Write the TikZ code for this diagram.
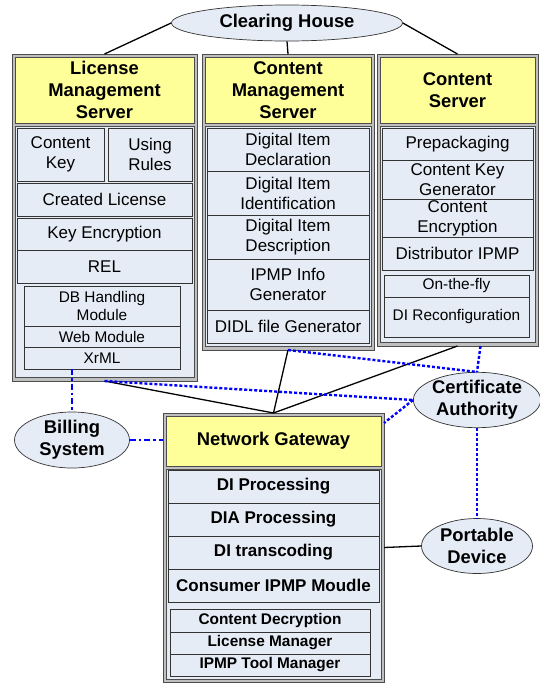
\documentclass[tikz,border=0pt]{standalone}
\usepackage{fontspec}
\setmainfont{Liberation Sans}
\usepackage{tikz}
\usetikzlibrary{shapes.geometric, positioning, calc}
\definecolor{yel}{HTML}{FFFF99}
\definecolor{pane}{HTML}{E6ECF6}

\begin{document}
\begin{tikzpicture}[
  x=1pt, y=-1pt,
  f/.style={rectangle, draw=black!70, fill=black!25, line width=0.6pt,
            inner sep=0pt, outer sep=0pt},
  p/.style={rectangle, draw=black!70, fill=pane, line width=0.6pt,
            inner sep=0pt, outer sep=0pt},
  h/.style={rectangle, draw=black!70, fill=yel, line width=0.6pt,
            inner sep=0pt, outer sep=0pt, align=center,
            font=\bfseries\fontsize{18.4}{22}\selectfont},
  i/.style={rectangle, draw=black!80, fill=pane, line width=0.7pt,
            inner sep=0pt, outer sep=0pt, align=center,
            font=\fontsize{17}{20}\selectfont},
  si/.style={i, font=\fontsize{15.4}{18}\selectfont},
  gi/.style={i, font=\bfseries\fontsize{17}{20}\selectfont},
  gs/.style={i, font=\bfseries\fontsize{15.4}{18}\selectfont},
  e/.style={ellipse, draw=black!80, fill=pane, line width=0.7pt,
            inner sep=0pt, align=center,
            font=\bfseries\fontsize{18.4}{22}\selectfont},
  l/.style={line width=1.3pt},
  cert/.style={blue, line width=2.4pt, dash pattern=on 3pt off 2pt},
  bill/.style={blue, line width=2.4pt, dash pattern=on 6pt off 3pt on 2.5pt off 3pt},
]
  \useasboundingbox (0,0) rectangle (539,683);

  \node[e, minimum width=231pt, minimum height=36pt] (ch) at (287,23) {Clearing House};

  \node[f, minimum width=185pt, minimum height=327pt] (lmsf) at (104.5,217.5) {};
  \node[h, minimum width=179pt, minimum height=66pt] (lms) at (104.5,90)
       {License\\Management\\Server};
  \node[p, minimum width=179pt, minimum height=251pt] (lmsp) at (104.5,251.5) {};
  \node[i, minimum width=87pt, minimum height=53pt] (ck) at (60.5,154.5) {Content\\Key};
  \node[i, minimum width=84pt, minimum height=53pt] (ur) at (150,154.5) {Using\\Rules};
  \node[i, minimum width=175pt, minimum height=33pt] (cl) at (104.5,199.5) {Created License};
  \node[i, minimum width=175pt, minimum height=32pt, below=2pt of cl] (ke) {Key Encryption};
  \node[i, minimum width=175pt, minimum height=33pt, below=0pt of ke] (rel) {REL};
  \node[si, minimum width=156pt, minimum height=40pt] (db) at (102,306) {DB Handling\\Module};
  \node[si, minimum width=156pt, minimum height=21pt, below=0pt of db] (web) {Web Module};
  \node[si, minimum width=156pt, minimum height=22pt, below=0pt of web] (xrml) {XrML};

  \node[f, minimum width=172pt, minimum height=296pt] (cmsf) at (288,202) {};
  \node[h, minimum width=166pt, minimum height=66pt] (cms) at (288,90)
       {Content\\Management\\Server};
  \node[p, minimum width=166pt, minimum height=220pt] (cmsp) at (288,236) {};
  \node[i, minimum width=162pt, minimum height=43pt] (ddecl) at (288,149.5)
       {Digital Item\\Declaration};
  \node[i, minimum width=162pt, minimum height=44pt, below=0pt of ddecl] (dident)
       {Digital Item\\Identification};
  \node[i, minimum width=162pt, minimum height=44pt, below=0pt of dident] (ddesc)
       {Digital Item\\Description};
  \node[i, minimum width=162pt, minimum height=51pt, below=0pt of ddesc] (ipmp)
       {IPMP Info\\Generator};
  \node[i, minimum width=162pt, minimum height=33pt, below=0pt of ipmp] (didl)
       {DIDL file Generator};

  \node[f, minimum width=161pt, minimum height=292pt] (csf) at (457.5,200) {};
  \node[h, minimum width=155pt, minimum height=66pt] (cs) at (457.5,90) {Content\\Server};
  \node[p, minimum width=155pt, minimum height=216pt] (csp) at (457.5,234) {};
  \node[i, minimum width=151pt, minimum height=32pt] (prep) at (457.5,144) {Prepackaging};
  \node[i, minimum width=151pt, minimum height=39pt, below=0pt of prep] (ckg)
       {Content Key\\Generator};
  \node[i, minimum width=151pt, minimum height=38pt, below=0pt of ckg] (cenc)
       {Content\\Encryption};
  \node[i, minimum width=151pt, minimum height=33pt, below=0pt of cenc] (dipmp)
       {Distributor IPMP};
  \node[si, minimum width=145pt, minimum height=22pt] (otf) at (456.5,286) {On-the-fly};
  \node[si, minimum width=145pt, minimum height=40pt, below=0pt of otf] (direc)
       {DI Reconfiguration};

  \node[f, minimum width=221pt, minimum height=269pt] (ngf) at (273.5,547.5) {};
  \node[h, minimum width=215pt, minimum height=50pt] (ng) at (273.5,441) {Network Gateway};
  \node[p, minimum width=215pt, minimum height=210pt] (ngp) at (273.5,574) {};
  \node[gi, minimum width=211pt, minimum height=33pt] (dip) at (273.5,486.5) {DI Processing};
  \node[gi, minimum width=211pt, minimum height=33pt, below=0pt of dip] (dia) {DIA Processing};
  \node[gi, minimum width=211pt, minimum height=33pt, below=0pt of dia] (dit) {DI transcoding};
  \node[gi, minimum width=211pt, minimum height=33pt, below=0pt of dit] (cim)
       {Consumer IPMP Moudle};
  \node[gs, minimum width=200pt, minimum height=23pt] (cd) at (270,620.5) {Content Decryption};
  \node[gs, minimum width=200pt, minimum height=22pt, below=0pt of cd] (lm) {License Manager};
  \node[gs, minimum width=200pt, minimum height=22pt, below=0pt of lm] (itm) {IPMP Tool Manager};

  \node[e, minimum width=115pt, minimum height=56pt] (bs) at (72,440) {Billing\\System};
  \node[e, minimum width=120pt, minimum height=55pt] (ca) at (477,400) {Certificate\\Authority};
  \node[e, minimum width=111pt, minimum height=55pt] (pd) at (477,546) {Portable\\Device};

  \draw[l] (ch.west) -- (lmsf.north);
  \draw[l] (ch.south) -- (cmsf.north);
  \draw[l] (ch.east) -- (csf.north);
  \draw[l] (lmsf.south) -- (ngf.north);
  \draw[l] (cmsf.south) -- (ngf.north);
  \draw[l] (csf.south) -- (ngf.north);
  \draw[l] (ngf.east) -- (pd.west);

  \draw[bill] (bs.north |- xrml.south) -- (bs.north);
  \draw[bill] (bs.east) -- (bs.east -| ngf.west);

  \draw[cert] (lmsf.south) -- (ca.west);
  \draw[cert] (cmsf.south) -- (ca.north);
  \draw[cert] ([xshift=23pt]csf.south) -- (ca.north);
  \draw[cert] (ca.west) -- ([yshift=-10pt]ngf.north east);
  \draw[cert] (ca.south) -- (pd.north);
\end{tikzpicture}
\end{document}
